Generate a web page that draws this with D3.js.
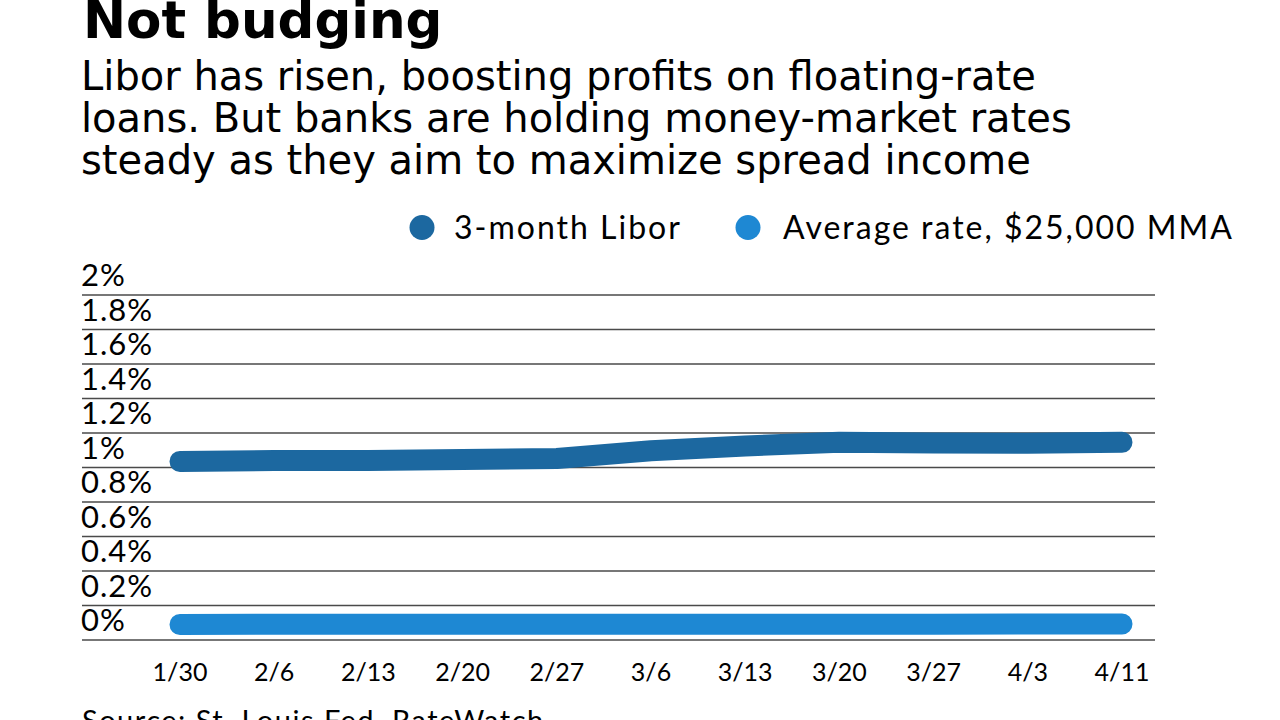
<!DOCTYPE html>
<html>
<head>
<meta charset="utf-8">
<script src="https://cdn.jsdelivr.net/npm/d3@7"></script>
<style>
    body { margin: 0; background: #fff; }
    .title { font-family: "DejaVu Sans", sans-serif; font-weight: bold; font-size: 51.5px; fill: #000; }
    .subtitle { font-family: "DejaVu Sans", sans-serif; font-size: 40px; fill: #000; }
    .legend-label, .axis-label, .source { font-family: Lato, sans-serif; fill: #000; }
    .legend-label { font-size: 32px; letter-spacing: 2px; }
    .y-label { font-size: 31px; letter-spacing: 1px; }
    .x-label { font-size: 25px; }
    .source { font-size: 29px; letter-spacing: 1.5px; }
    .grid-line { stroke: #4a4a4a; stroke-width: 1.5; }
    .chart-line { fill: none; stroke-width: 21; stroke-linecap: round; stroke-linejoin: round; }
</style>
</head>
<body>
<div id="chart"></div>
<script>

// data
var dates = ["1/30", "2/6", "2/13", "2/20", "2/27", "3/6", "3/13", "3/20", "3/27", "4/3", "4/11"];
var liborValues = [1.035, 1.04, 1.04, 1.046, 1.052, 1.097, 1.125, 1.147, 1.142, 1.14, 1.146];
var mmaValues = [0.09, 0.091, 0.091, 0.091, 0.091, 0.092, 0.092, 0.092, 0.092, 0.093, 0.093];
var yTicks = [0, 0.2, 0.4, 0.6, 0.8, 1, 1.2, 1.4, 1.6, 1.8, 2];
var seriesNames = ["3-month Libor", "Average rate, $25,000 MMA"];
var seriesColors = ["#1c68a0", "#1e88d3"];

var margin = {top: 295, right: 125, bottom: 80, left: 82};
var width = 1280 - margin.left - margin.right;
var height = 720 - margin.top - margin.bottom;

var svg = d3.select("#chart").append("svg")
    .attr("width", 1280)
    .attr("height", 720);

// headings
svg.append("text").attr("class", "title")
    .attr("x", 83).attr("y", 38)
    .text("Not budging");

var subLines = ["Libor has risen, boosting profits on floating-rate",
    "loans. But banks are holding money-market rates",
    "steady as they aim to maximize spread income"];
svg.selectAll(".subtitle").data(subLines).enter().append("text")
    .attr("class", "subtitle")
    .attr("x", 81)
    .attr("y", function(d, i) { return 90 + i * 42; })
    .text(function(d) { return d; });

// legend
var legendX = [[422, 454], [748, 783]];
var legend = svg.selectAll(".legend-item").data(seriesNames).enter().append("g")
    .attr("class", "legend-item");
legend.append("ellipse")
    .attr("cx", function(d, i) { return legendX[i][0]; })
    .attr("cy", 227.5)
    .attr("rx", 12.5).attr("ry", 12.5)
    .attr("fill", function(d, i) { return seriesColors[i]; });
legend.append("text")
    .attr("class", "legend-label")
    .attr("x", function(d, i) { return legendX[i][1]; })
    .attr("y", 239)
    .text(function(d) { return d; });

var g = svg.append("g")
    .attr("transform", "translate(" + margin.left + "," + margin.top + ")");

var xScale = d3.scalePoint()
    .domain(dates)
    .range([98, 1040]);

var yScale = d3.scaleLinear()
    .domain([0, 2])
    .range([height, 0]);

// gridlines + y labels
g.selectAll(".grid-line").data(yTicks).enter().append("line")
    .attr("class", "grid-line")
    .attr("x1", 0).attr("x2", width)
    .attr("y1", function(d) { return yScale(d); })
    .attr("y2", function(d) { return yScale(d); });

g.selectAll(".y-label").data(yTicks).enter().append("text")
    .attr("class", "axis-label y-label")
    .attr("x", -1)
    .attr("y", function(d) { return yScale(d) - 9; })
    .text(function(d) { return d3.format("~g")(d) + "%"; });

// x labels
g.selectAll(".x-label").data(dates).enter().append("text")
    .attr("class", "axis-label x-label")
    .attr("text-anchor", "middle")
    .attr("x", function(d) { return xScale(d); })
    .attr("y", height + 41)
    .text(function(d) { return d; });

// lines
var line = d3.line()
    .x(function(d, i) { return xScale(dates[i]); })
    .y(function(d) { return yScale(d); })
    .curve(d3.curveLinear);

g.selectAll(".chart-line").data([liborValues, mmaValues]).enter().append("path")
    .attr("class", "chart-line")
    .attr("d", function(d) { return line(d); })
    .attr("stroke", function(d, i) { return seriesColors[i]; });

svg.append("text").attr("class", "source")
    .attr("x", 82).attr("y", 731)
    .text("Source: St. Louis Fed, RateWatch");

</script>
</body>
</html>
